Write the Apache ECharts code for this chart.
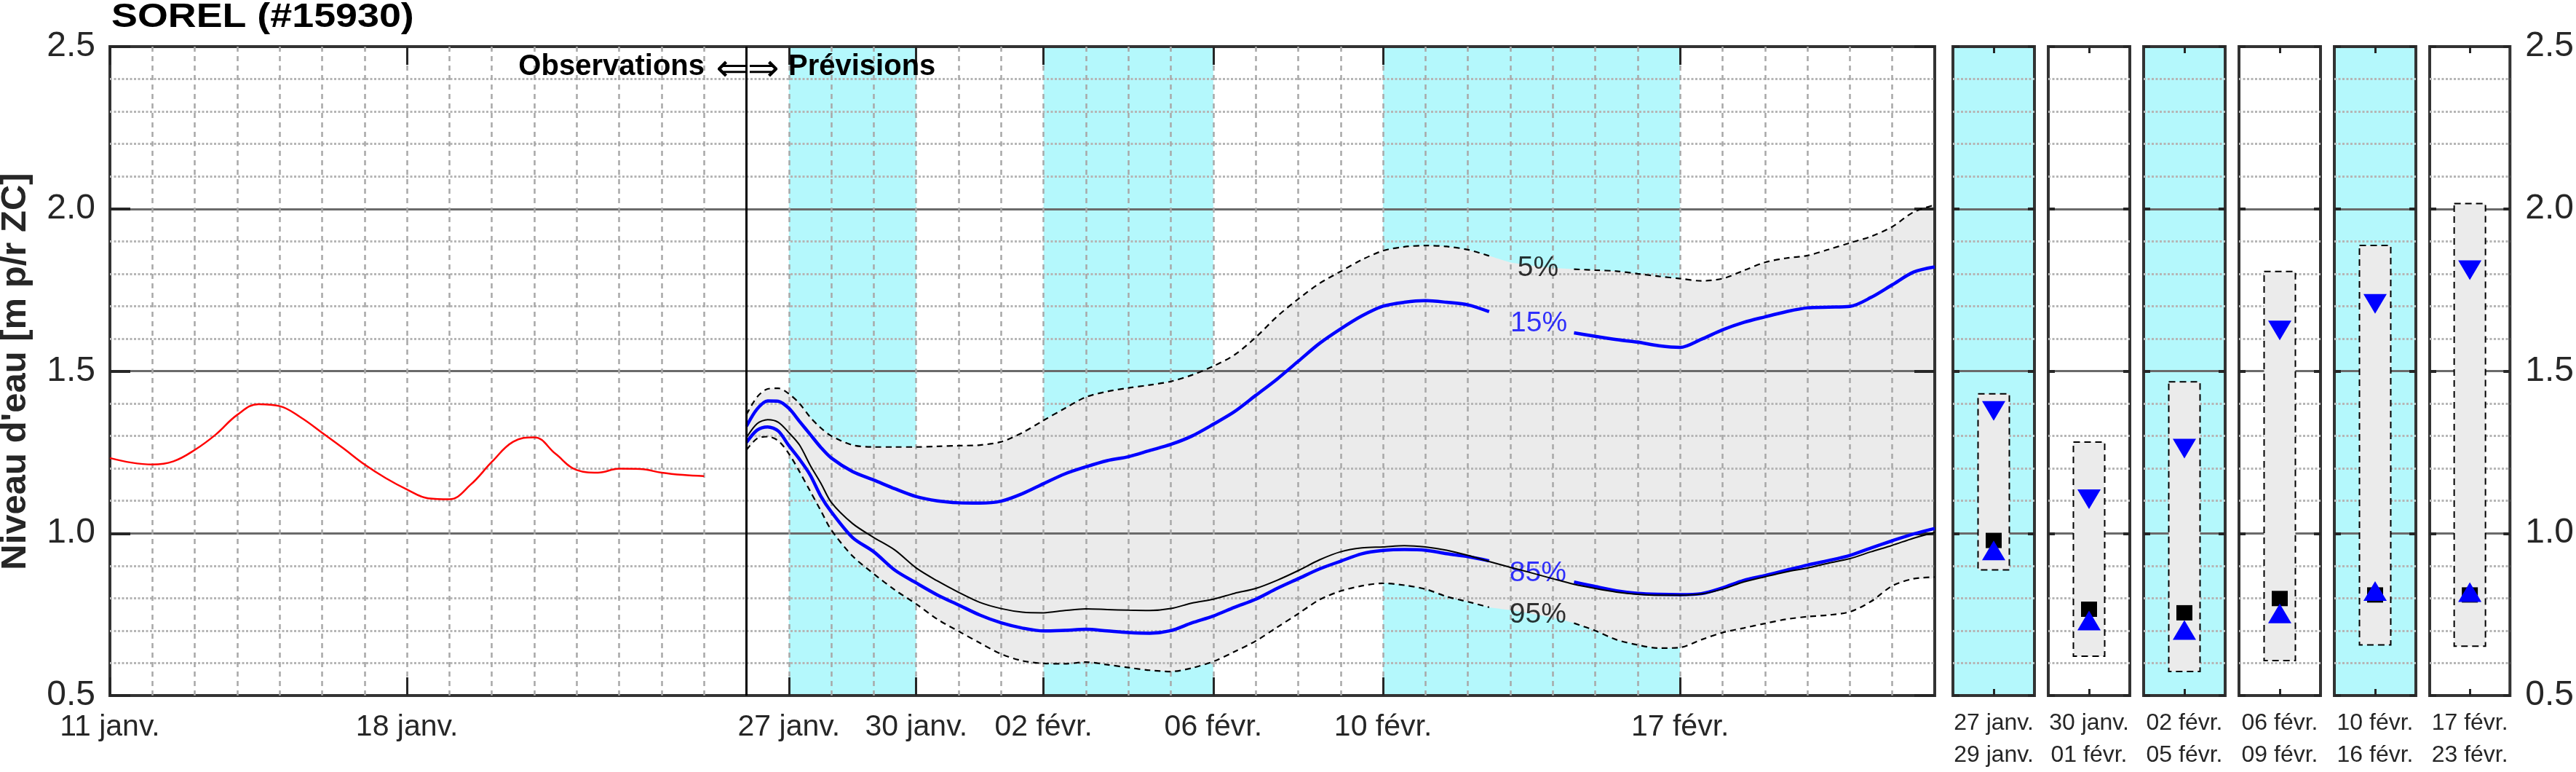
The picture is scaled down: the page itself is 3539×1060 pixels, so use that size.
<!DOCTYPE html>
<html>
<head>
<meta charset="utf-8">
<title>SOREL (#15930)</title>
<script src="https://cdn.jsdelivr.net/npm/echarts@6/dist/echarts.min.js"></script>
<style>
  html, body { margin: 0; padding: 0; background: #fff; }
  #main { width: 3539px; height: 1060px; }
</style>
</head>
<body>
<div id="main"></div>
<script>
// axe du temps : jours depuis le 11 janv. (0) jusqu'au 23 févr. (43)
var dayMax = 43
var forecastStart = 15
var tickDays = [0, 7, 16, 19, 22, 26, 30, 37]
var tickLabels = ['11 janv.', '18 janv.', '27 janv.', '30 janv.', '02 févr.', '06 févr.', '10 févr.', '17 févr.']
var levelMin = 0.5
var levelMax = 2.5

// observations (rouge)
var obsDays = [0, 0.5, 1, 1.5, 2, 2.5, 3, 3.5, 4, 4.5, 5, 5.5, 6, 6.5, 7, 7.5, 8, 8.5, 9, 9.5, 10, 10.5, 11, 11.5, 12, 12.5, 13, 13.5, 14]
var obsLevel = [1.232, 1.218, 1.212, 1.222, 1.257, 1.305, 1.365, 1.398, 1.392, 1.357, 1.31, 1.262, 1.212, 1.17, 1.135, 1.108, 1.105, 1.15, 1.22, 1.282, 1.296, 1.245, 1.195, 1.187, 1.199, 1.198, 1.187, 1.18, 1.176]

// prévisions d'ensemble : quantiles
var fcDays = [15, 15.25, 15.5, 15.75, 16, 16.25, 16.5, 16.75, 17, 17.5, 18, 18.5, 19, 19.5, 20, 20.5, 21, 21.5, 22, 22.5, 23, 23.5, 24, 24.5, 25, 25.5, 26, 26.5, 27, 27.5, 28, 28.5, 29, 29.5, 30, 30.5, 31, 31.5, 32, 32.5, 33, 33.5, 34, 34.5, 35, 35.5, 36, 36.5, 37, 37.5, 38, 38.5, 39, 39.5, 40, 40.5, 41, 41.5, 42, 42.5, 43]
var q05 = [1.366, 1.42, 1.445, 1.447, 1.43, 1.40, 1.358, 1.325, 1.30, 1.272, 1.266, 1.266, 1.266, 1.268, 1.270, 1.272, 1.282, 1.31, 1.348, 1.385, 1.42, 1.437, 1.448, 1.457, 1.468, 1.488, 1.515, 1.55, 1.604, 1.668, 1.722, 1.77, 1.807, 1.843, 1.871, 1.883, 1.887, 1.884, 1.874, 1.855, 1.835, 1.825, 1.818, 1.814, 1.811, 1.808, 1.80, 1.792, 1.785, 1.778, 1.785, 1.81, 1.835, 1.848, 1.856, 1.875, 1.895, 1.915, 1.945, 1.99, 2.012]
var q15 = [1.33, 1.383, 1.408, 1.407, 1.385, 1.345, 1.305, 1.265, 1.232, 1.19, 1.164, 1.137, 1.113, 1.10, 1.094, 1.093, 1.099, 1.122, 1.153, 1.183, 1.205, 1.224, 1.236, 1.255, 1.274, 1.30, 1.336, 1.375, 1.425, 1.475, 1.53, 1.585, 1.63, 1.67, 1.70, 1.712, 1.717, 1.712, 1.704, 1.683, 1.666, 1.65, 1.635, 1.618, 1.607, 1.597, 1.589, 1.578, 1.573, 1.598, 1.627, 1.65, 1.667, 1.683, 1.695, 1.697, 1.699, 1.727, 1.766, 1.805, 1.821]
var q50 = [1.295, 1.338, 1.35, 1.342, 1.31, 1.272, 1.21, 1.155, 1.095, 1.03, 0.987, 0.948, 0.893, 0.853, 0.818, 0.787, 0.768, 0.757, 0.755, 0.762, 0.767, 0.765, 0.763, 0.762, 0.768, 0.785, 0.797, 0.815, 0.83, 0.855, 0.885, 0.918, 0.943, 0.955, 0.958, 0.962, 0.958, 0.948, 0.932, 0.913, 0.895, 0.878, 0.86, 0.843, 0.83, 0.819, 0.812, 0.809, 0.809, 0.813, 0.828, 0.85, 0.866, 0.881, 0.893, 0.908, 0.922, 0.943, 0.963, 0.985, 1.003]
var q85 = [1.28, 1.318, 1.328, 1.315, 1.27, 1.228, 1.18, 1.115, 1.066, 0.987, 0.943, 0.886, 0.847, 0.81, 0.779, 0.748, 0.724, 0.708, 0.699, 0.701, 0.704, 0.699, 0.694, 0.692, 0.70, 0.724, 0.745, 0.772, 0.797, 0.83, 0.86, 0.89, 0.914, 0.937, 0.947, 0.95, 0.948, 0.937, 0.928, 0.915, 0.898, 0.88, 0.863, 0.85, 0.836, 0.823, 0.815, 0.812, 0.811, 0.814, 0.832, 0.855, 0.87, 0.886, 0.902, 0.916, 0.932, 0.955, 0.977, 0.998, 1.015]
var q95 = [1.257, 1.292, 1.298, 1.285, 1.245, 1.19, 1.13, 1.07, 1.01, 0.93, 0.875, 0.825, 0.782, 0.735, 0.698, 0.662, 0.628, 0.607, 0.599, 0.598, 0.603, 0.595, 0.586, 0.578, 0.574, 0.585, 0.605, 0.635, 0.668, 0.71, 0.752, 0.795, 0.822, 0.838, 0.846, 0.84, 0.828, 0.805, 0.789, 0.772, 0.763, 0.752, 0.74, 0.723, 0.70, 0.672, 0.656, 0.646, 0.648, 0.672, 0.694, 0.708, 0.722, 0.735, 0.743, 0.748, 0.758, 0.79, 0.838, 0.86, 0.865]

// bandes cyan (périodes des panneaux)
var shadeBands = [[16, 19], [22, 26], [30, 37]]

// étiquettes des quantiles, placées sur les courbes
var pctNames = ['5%', '15%', '85%', '95%']
var pctDays = [33.65, 33.67, 33.65, 33.65]
var pctLevels = [1.817, 1.646, 0.877, 0.748]
var pctColors = ['#000', '#0000ff', '#0000ff', '#000']
var gapFrom = 33
var gapTo = 34

// panneaux de synthèse par période
var panelLabels = ['27 janv.\n29 janv.', '30 janv.\n01 févr.', '02 févr.\n05 févr.', '06 févr.\n09 févr.', '10 févr.\n16 févr.', '17 févr.\n23 févr.']
var panelShaded = [true, false, true, false, true, false]
var panelHigh = [1.430, 1.281, 1.467, 1.807, 1.887, 2.016]
var panelQ15 = [1.377, 1.105, 1.261, 1.625, 1.707, 1.811]
var panelQ50 = [0.978, 0.766, 0.755, 0.799, 0.81, 0.81]
var panelQ85 = [0.947, 0.731, 0.702, 0.753, 0.822, 0.819]
var panelLow = [0.887, 0.621, 0.574, 0.608, 0.656, 0.652]

var FONT = '"Liberation Sans", Arial, Helvetica, sans-serif'
var CYAN = '#b4f8fc'
var BAND = '#ebebeb'
var AXIS = '#262626'

function pairs (xs, ys, gap) {
  return xs.map(function (x, i) {
    if (gap && x >= gapFrom && x <= gapTo) return [x, '-']
    return [x, ys[i]]
  })
}

function isTickDay (index) {
  return tickDays.indexOf(index) >= 0
}

var dayCats = []
for (var d = 0; d <= dayMax; d++) dayCats.push(String(d))

var minorDotted = { show: true, lineStyle: { color: '#b5b5b5', width: 3, type: [3, 2.5] } }
var majorSolid = { show: true, showMinLine: false, showMaxLine: false, lineStyle: { color: '#6a6a6a', width: 3 } }

var grids = [{ left: 151, top: 64, width: 2507, height: 891, show: true, backgroundColor: 'transparent', borderColor: '#333', borderWidth: 4 }]
var xAxes = [
  {
    type: 'value', gridIndex: 0, min: 0, max: dayMax, interval: 1,
    axisLine: { show: false }, axisTick: { show: false }, axisLabel: { show: false },
    splitLine: { show: true, showMinLine: false, showMaxLine: false, lineStyle: { color: '#a8a8a8', width: 2.5, type: [7, 6] } }
  },
  {
    type: 'category', gridIndex: 0, data: dayCats, boundaryGap: false, position: 'bottom',
    axisLine: { show: false },
    axisTick: { show: true, inside: true, length: 25, interval: isTickDay, lineStyle: { color: AXIS, width: 3 } },
    axisLabel: {
      interval: isTickDay, fontSize: 41, color: AXIS, margin: 23, fontFamily: FONT,
      formatter: function (v, i) { var k = tickDays.indexOf(i); return k >= 0 ? tickLabels[k] : '' }
    },
    splitLine: { show: false }
  },
  {
    type: 'category', gridIndex: 0, data: dayCats, boundaryGap: false, position: 'top',
    axisLine: { show: false },
    axisTick: { show: true, inside: true, length: 25, interval: isTickDay, lineStyle: { color: AXIS, width: 3 } },
    axisLabel: { show: false }, splitLine: { show: false }
  }
]
var yAxes = [
  {
    type: 'value', gridIndex: 0, min: levelMin, max: levelMax, interval: 0.5, position: 'left',
    axisLine: { show: false },
    axisTick: { show: true, inside: true, length: 28, lineStyle: { color: AXIS, width: 4 } },
    axisLabel: { fontSize: 48, color: AXIS, margin: 20, fontFamily: FONT, formatter: function (v) { return v.toFixed(1) } },
    splitLine: majorSolid,
    minorTick: { show: false, splitNumber: 5 },
    minorSplitLine: minorDotted
  },
  {
    type: 'value', gridIndex: 0, min: levelMin, max: levelMax, interval: 0.5, position: 'right',
    axisLine: { show: false },
    axisTick: { show: true, inside: true, length: 28, lineStyle: { color: AXIS, width: 4 } },
    axisLabel: { show: false }, splitLine: { show: false }
  }
]

var series = [
  {
    // bandes cyan derrière la grille
    type: 'custom', xAxisIndex: 0, yAxisIndex: 0, z: -2, silent: true,
    data: shadeBands,
    encode: { x: [0, 1] },
    renderItem: function (params, api) {
      var p0 = api.coord([api.value(0), levelMax])
      var p1 = api.coord([api.value(1), levelMin])
      return { type: 'rect', shape: { x: p0[0], y: p0[1], width: p1[0] - p0[0], height: p1[1] - p0[1] }, style: { fill: CYAN } }
    }
  },
  {
    // enveloppe 5 % - 95 %
    type: 'custom', xAxisIndex: 0, yAxisIndex: 0, z: -1, silent: true, clip: false,
    data: [[forecastStart, q05[0]]],
    renderItem: function (params, api) {
      var pts = []
      for (var i = 0; i < fcDays.length; i++) pts.push(api.coord([fcDays[i], q05[i]]))
      for (var j = fcDays.length - 1; j >= 0; j--) pts.push(api.coord([fcDays[j], q95[j]]))
      return { type: 'polygon', shape: { points: pts, smooth: 0.15 }, style: { fill: BAND } }
    }
  },
  {
    name: 'Observations', type: 'line', xAxisIndex: 0, yAxisIndex: 0,
    data: pairs(obsDays, obsLevel), showSymbol: false, smooth: 0.4,
    lineStyle: { color: '#ff0000', width: 2.5 },
    markLine: {
      silent: true, symbol: ['none', 'none'], label: { show: false },
      lineStyle: { color: '#000', width: 3, type: 'solid' },
      data: [{ xAxis: forecastStart }]
    }
  },
  { name: '5%', type: 'line', xAxisIndex: 0, yAxisIndex: 0, data: pairs(fcDays, q05, true), showSymbol: false, smooth: 0.3, lineStyle: { color: '#000', width: 2.2, type: [8, 6] } },
  { name: '95%', type: 'line', xAxisIndex: 0, yAxisIndex: 0, data: pairs(fcDays, q95, true), showSymbol: false, smooth: 0.3, lineStyle: { color: '#000', width: 2.2, type: [8, 6] } },
  { name: '15%', type: 'line', xAxisIndex: 0, yAxisIndex: 0, data: pairs(fcDays, q15, true), showSymbol: false, smooth: 0.3, lineStyle: { color: '#0000ff', width: 4.5 } },
  { name: '85%', type: 'line', xAxisIndex: 0, yAxisIndex: 0, data: pairs(fcDays, q85, true), showSymbol: false, smooth: 0.3, lineStyle: { color: '#0000ff', width: 4.5 } },
  { name: '50%', type: 'line', xAxisIndex: 0, yAxisIndex: 0, data: pairs(fcDays, q50), showSymbol: false, smooth: 0.3, lineStyle: { color: '#000', width: 2 } },
  {
    type: 'scatter', xAxisIndex: 0, yAxisIndex: 0, symbolSize: 1, silent: true,
    itemStyle: { color: 'rgba(0,0,0,0)' },
    data: pctNames.map(function (n, i) {
      return { name: n, value: [pctDays[i], pctLevels[i]], label: { color: pctColors[i] } }
    }),
    label: { show: true, position: 'inside', formatter: '{b}', fontSize: 39, fontFamily: FONT }
  }
]

// panneaux de droite
for (var p = 0; p < panelLabels.length; p++) {
  var g = p + 1
  grids.push({
    left: 2683 + p * 131, top: 64, width: 112, height: 891, show: true,
    backgroundColor: panelShaded[p] ? CYAN : '#fff', borderColor: '#333', borderWidth: 4
  })
  xAxes.push({
    type: 'category', gridIndex: g, data: [panelLabels[p]], boundaryGap: true, position: 'bottom',
    axisLine: { show: false },
    axisTick: { show: true, inside: true, alignWithLabel: true, length: 9, lineStyle: { color: AXIS, width: 3 } },
    axisLabel: { fontSize: 32, lineHeight: 44, color: AXIS, margin: 16, fontFamily: FONT },
    splitLine: { show: false }
  })
  yAxes.push({
    type: 'value', gridIndex: g, min: levelMin, max: levelMax, interval: 0.5, position: 'left',
    axisLine: { show: false },
    axisTick: { show: true, inside: true, length: 9, lineStyle: { color: AXIS, width: 4 } },
    axisLabel: { show: false },
    splitLine: majorSolid,
    minorTick: { show: false, splitNumber: 5 },
    minorSplitLine: minorDotted
  })
}
for (var q = 0; q < panelLabels.length; q++) {
  xAxes.push({
    type: 'category', gridIndex: q + 1, data: [panelLabels[q]], boundaryGap: true, position: 'top',
    axisLine: { show: false },
    axisTick: { show: true, inside: true, alignWithLabel: true, length: 9, lineStyle: { color: AXIS, width: 3 } },
    axisLabel: { show: false }, splitLine: { show: false }
  })
  yAxes.push({
    type: 'value', gridIndex: q + 1, min: levelMin, max: levelMax, interval: 0.5, position: 'right',
    axisLine: { show: false },
    axisTick: { show: true, inside: true, length: 9, lineStyle: { color: AXIS, width: 4 } },
    axisLabel: {
      show: q === panelLabels.length - 1, fontSize: 48, color: AXIS, margin: 21, fontFamily: FONT,
      formatter: function (v) { return v.toFixed(1) }
    },
    splitLine: { show: false }
  })
  series.push({
    type: 'custom', xAxisIndex: 3 + q, yAxisIndex: 2 + q, silent: true,
    data: [[0, panelHigh[q], panelLow[q]]],
    encode: { x: 0, y: [1, 2] },
    renderItem: function (params, api) {
      var top = api.coord([api.value(0), api.value(1)])
      var bot = api.coord([api.value(0), api.value(2)])
      var w = 43
      return {
        type: 'rect',
        shape: { x: top[0] - w / 2, y: top[1], width: w, height: bot[1] - top[1] },
        style: { fill: BAND, stroke: '#000', lineWidth: 2, lineDash: [9, 6] }
      }
    }
  })
  series.push({
    type: 'scatter', xAxisIndex: 3 + q, yAxisIndex: 2 + q, silent: true,
    itemStyle: { opacity: 1 },
    data: [
      { value: [0, panelQ50[q]], symbol: 'rect', symbolSize: [22, 21], itemStyle: { color: '#000', opacity: 1 } },
      { value: [0, panelQ15[q]], symbol: 'triangle', symbolSize: [32, 27], symbolRotate: 180, itemStyle: { color: '#0000ff', opacity: 1 } },
      { value: [0, panelQ85[q]], symbol: 'triangle', symbolSize: [32, 27], itemStyle: { color: '#0000ff', opacity: 1 } }
    ]
  })
}

var option = {
  animation: false,
  backgroundColor: '#fff',
  textStyle: { fontFamily: FONT },
  grid: grids,
  xAxis: xAxes,
  yAxis: yAxes,
  series: series,
  graphic: [
    {
      type: 'text', x: 153, y: 24, scaleX: 1.17, z: 100,
      style: { text: 'SOREL (#15930)', font: 'bold 46px ' + FONT, fill: '#000', textAlign: 'left', textVerticalAlign: 'middle', align: 'left', verticalAlign: 'middle' }
    },
    {
      type: 'text', x: 968, y: 92, z: 100,
      style: { text: 'Observations', font: 'bold 40px ' + FONT, fill: '#000', textAlign: 'right', textVerticalAlign: 'middle', align: 'right', verticalAlign: 'middle' }
    },
    {
      type: 'text', x: 1027, y: 97, z: 100,
      style: { text: '⇐⇒', font: '52px "DejaVu Sans", sans-serif', fill: '#000', textAlign: 'center', textVerticalAlign: 'middle', align: 'center', verticalAlign: 'middle' }
    },
    {
      type: 'text', x: 1083, y: 92, z: 100,
      style: { text: 'Prévisions', font: 'bold 40px ' + FONT, fill: '#000', textAlign: 'left', textVerticalAlign: 'middle', align: 'left', verticalAlign: 'middle' }
    },
    {
      type: 'text', x: 21, y: 510, rotation: Math.PI / 2, z: 100,
      style: { text: "Niveau d'eau [m p/r ZC]", font: 'bold 49px ' + FONT, fill: '#262626', textAlign: 'center', textVerticalAlign: 'middle', align: 'center', verticalAlign: 'middle' }
    }
  ]
}

var myChart = echarts.init(document.getElementById('main'))
myChart.setOption(option)
</script>
</body>
</html>
